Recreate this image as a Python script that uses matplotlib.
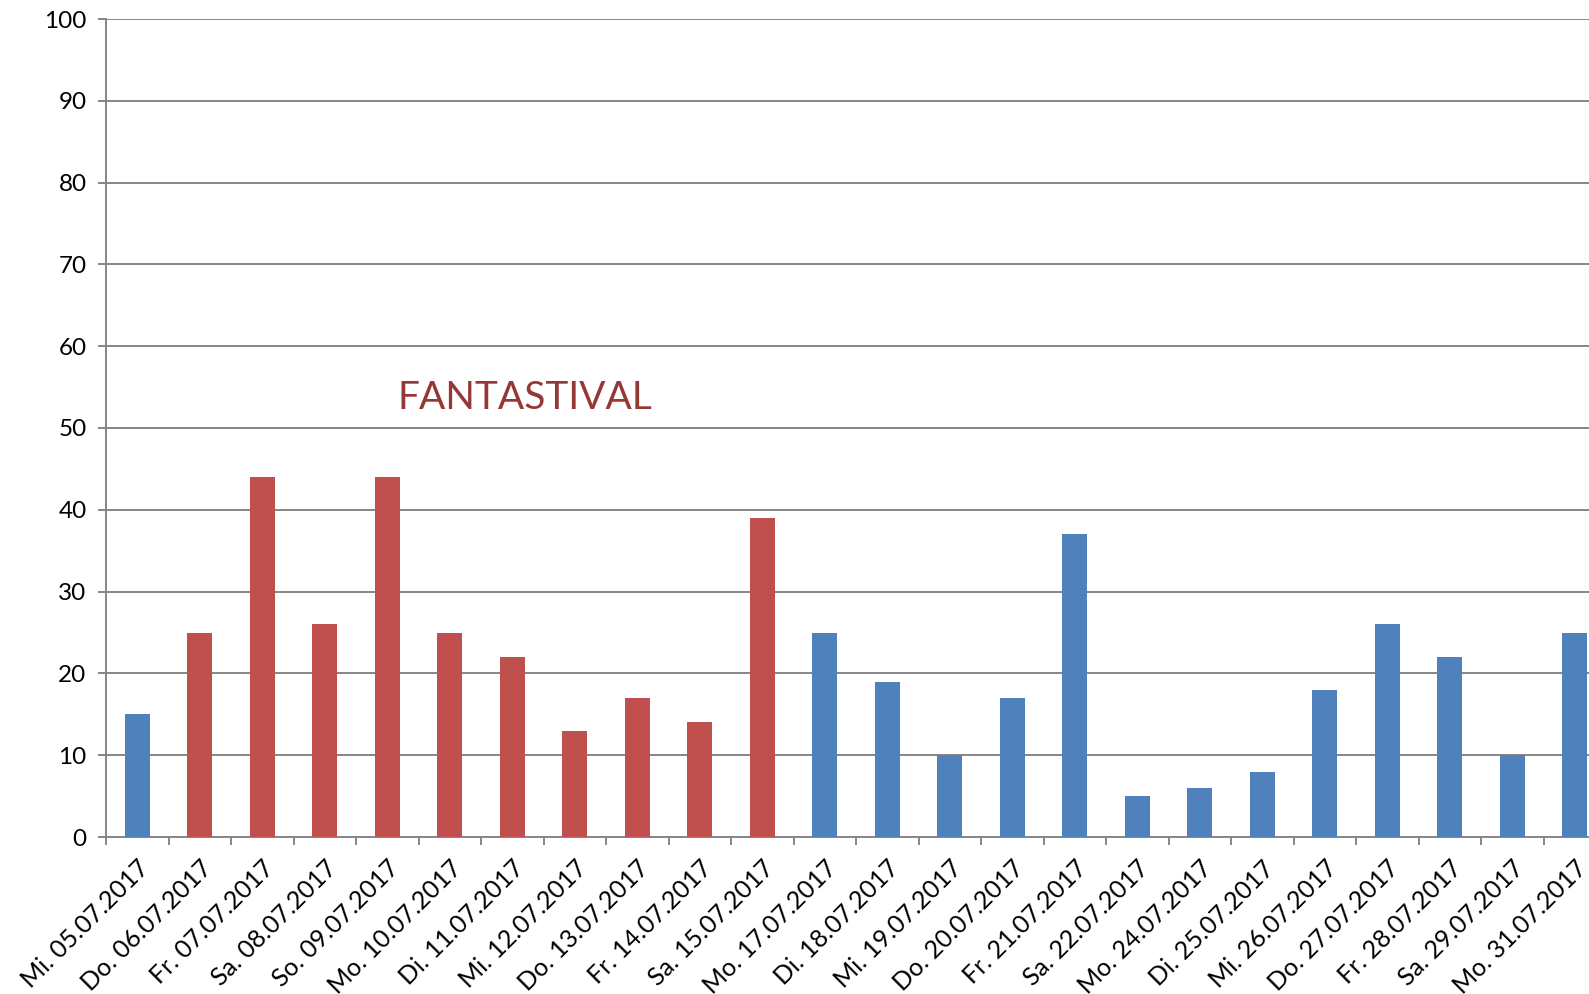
import matplotlib.pyplot as plt
import numpy as np

tage = ['Mi. 05.07.2017', 'Do. 06.07.2017', 'Fr. 07.07.2017', 'Sa. 08.07.2017',
        'So. 09.07.2017', 'Mo. 10.07.2017', 'Di. 11.07.2017', 'Mi. 12.07.2017',
        'Do. 13.07.2017', 'Fr. 14.07.2017', 'Sa. 15.07.2017', 'Mo. 17.07.2017',
        'Di. 18.07.2017', 'Mi. 19.07.2017', 'Do. 20.07.2017', 'Fr. 21.07.2017',
        'Sa. 22.07.2017', 'Mo. 24.07.2017', 'Di. 25.07.2017', 'Mi. 26.07.2017',
        'Do. 27.07.2017', 'Fr. 28.07.2017', 'Sa. 29.07.2017', 'Mo. 31.07.2017']
werte = [15, 25, 44, 26, 44, 25, 22, 13, 17, 14, 39, 25,
         19, 10, 17, 37, 5, 6, 8, 18, 26, 22, 10, 25]
festival = [False, True, True, True, True, True, True, True, True, True, True, False,
            False, False, False, False, False, False, False, False, False, False, False, False]

blau = '#4F81BD'
rot = '#C0504D'
grau = '#868686'

plt.rcParams['font.family'] = ['Lato', 'DejaVu Sans']

fig = plt.figure(figsize=(15.89, 9.94), dpi=100)
ax = fig.add_axes([106 / 1589, 157 / 994, 1500 / 1589, 818 / 994])

x = np.arange(len(tage))
farben = [rot if f else blau for f in festival]
ax.bar(x, werte, width=0.4, color=farben, zorder=3)

ax.set_xlim(-0.5, len(tage) - 0.5)
ax.set_ylim(0, 100)
ax.set_yticks(range(0, 101, 10))
ax.yaxis.grid(True, color=grau, linewidth=1.4, zorder=0)

ax.set_xticks(x)
ax.set_xticklabels(tage, rotation=45, ha='right', rotation_mode='anchor', fontsize=18)
ax.set_xticks(np.arange(-0.5, len(tage), 1), minor=True)
ax.tick_params(axis='x', which='major', length=0, pad=14)
ax.tick_params(axis='x', which='minor', length=6, width=1.4, color=grau)
ax.tick_params(axis='y', length=6, width=1.4, color=grau, labelsize=17.5, pad=8)

for s in ['top', 'right']:
    ax.spines[s].set_visible(False)
for s in ['left', 'bottom']:
    ax.spines[s].set_color(grau)
    ax.spines[s].set_linewidth(1.4)

ax.text(4.17, 53.7, 'FANTASTIVAL', color='#953735', fontsize=28, va='center', ha='left')

fig.savefig('out.png', dpi=100)
